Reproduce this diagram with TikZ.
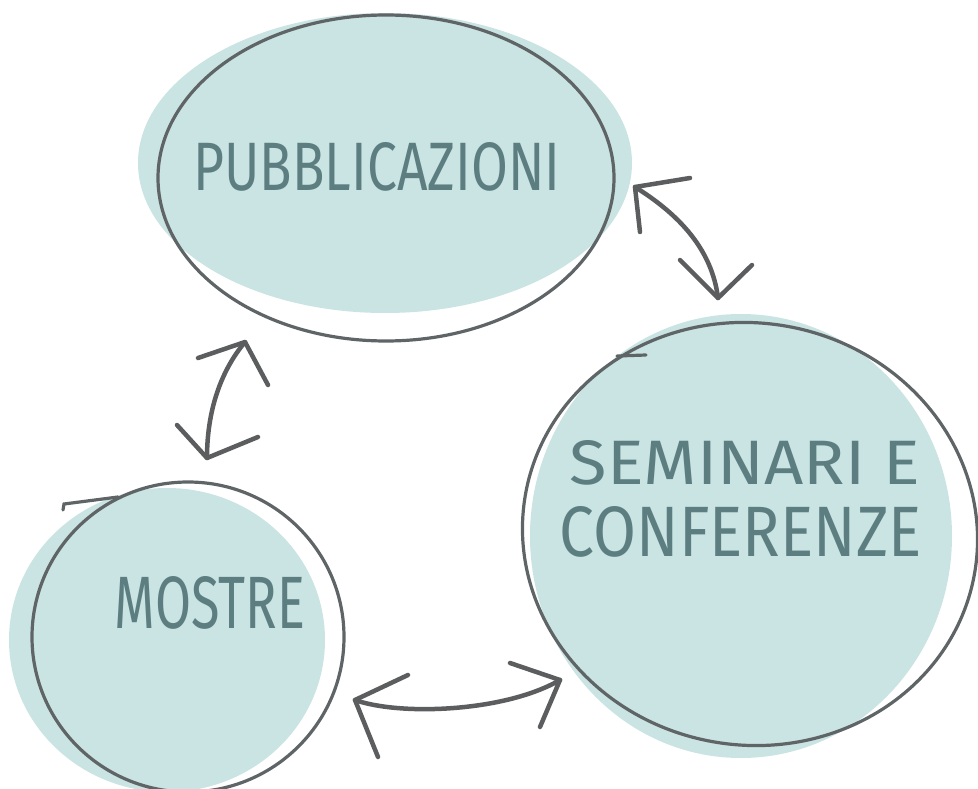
\documentclass[tikz,border=0pt]{standalone}
\usepackage{fontspec}
\usepackage{graphicx}
\setmainfont{Fira Sans}
\definecolor{bubblefill}{HTML}{CAE3E3}
\definecolor{ringcol}{HTML}{5F6567}
\definecolor{labelcol}{HTML}{5D7E80}
\definecolor{arrowcol}{HTML}{5B5D5F}
\tikzset{
  bubble/.style={fill=bubblefill, draw=none},
  ring/.style={draw=ringcol, line width=3.2pt},
  lbl/.style={text=labelcol, inner sep=0pt},
  link/.style={draw=arrowcol, line width=4.5pt, line cap=round, line join=round},
}
\begin{document}
\begin{tikzpicture}[x=1pt,y=-1pt]
\useasboundingbox (0,0) rectangle (978,789);
% fills
\fill[bubble] (385,163) ellipse [x radius=247, y radius=150];
\fill[bubble] (741,536) ellipse [x radius=211, y radius=222];
\fill[bubble] (167,640) ellipse [x radius=158, y radius=152];
% outlines
\draw[ring] (386,178) ellipse [x radius=228, y radius=163];
\draw[ring, rotate around={-10:(750,534)}] (750,534) ellipse [x radius=228, y radius=211];
\draw[ring] (188,637) ellipse [x radius=156, y radius=155];
% pen tails
\draw[ring, line cap=round] (63,510) -- (64,504) -- (118,497);
\draw[ring, line cap=round] (617,356) -- (646,355);
% labels
\node[lbl] (pub) at (377,167) {\resizebox{367pt}{48pt}{PUBBLICAZIONI}};
\node[lbl] (sem1) at (745,463) {\resizebox{350pt}{44pt}{SEMINARI E}};
\node[lbl] (sem2) at (741,532) {\resizebox{362pt}{50pt}{CONFERENZE}};
\node[lbl] (mos) at (210,603) {\resizebox{190pt}{52pt}{MOSTRE}};
% arrow end points
\coordinate (a1s) at (635,187);
\coordinate (a1e) at (718,298);
\coordinate (a2s) at (245,342);
\coordinate (a2e) at (207,458);
\coordinate (a3s) at (355,700);
\coordinate (a3e) at (560,680);
% arrow: pubblicazioni <-> seminari
\draw[link] (a1s) .. controls (680,215) and (712,250) .. (a1e);
\draw[link] (690,178) -- (a1s) -- (640,232);
\draw[link] (680,260) -- (a1e) -- (752,265);
% arrow: pubblicazioni <-> mostre
\draw[link] (a2s) .. controls (220,372) and (207,412) .. (a2e);
\draw[link] (198,358) -- (a2s) -- (268,385);
\draw[link] (177,425) -- (a2e) -- (258,437);
% arrow: mostre <-> seminari
\draw[link] (a3s) .. controls (400,716) and (505,712) .. (a3e);
\draw[link] (408,675) -- (a3s) -- (378,757);
\draw[link] (510,663) -- (a3e) -- (540,727);
\end{tikzpicture}
\end{document}
